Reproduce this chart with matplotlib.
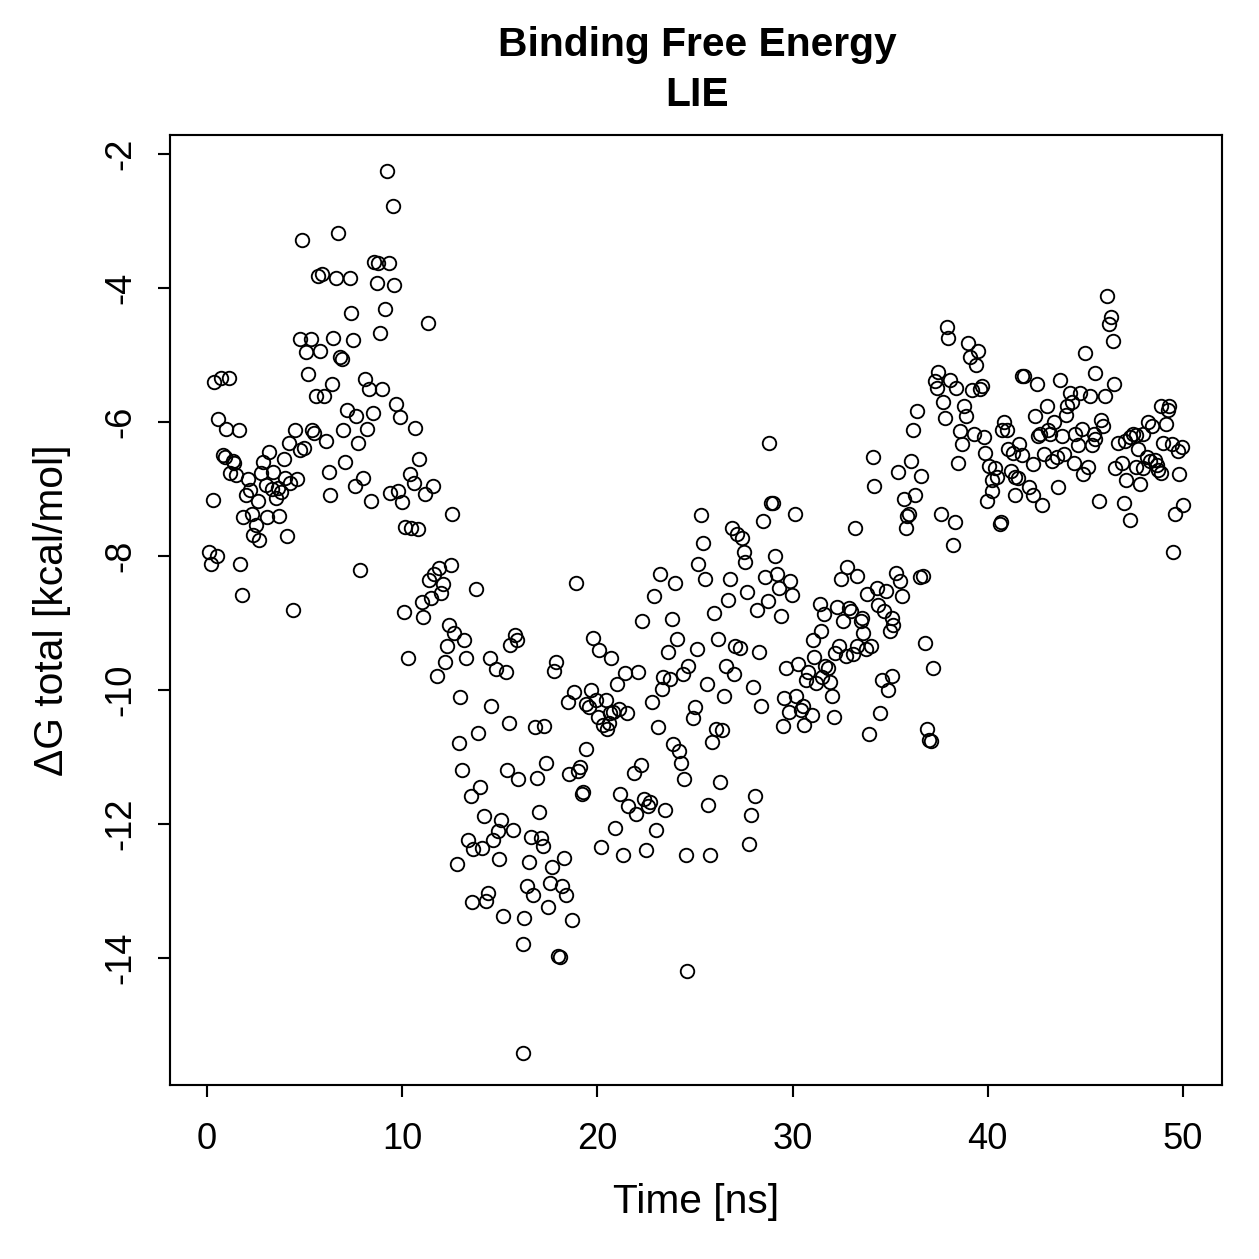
import numpy as np
import matplotlib
matplotlib.use("Agg")
import matplotlib.pyplot as plt

plt.rcParams['font.family'] = ['Liberation Sans', 'DejaVu Sans']

# simulation time [ns] and LIE binding free energy [kcal/mol]
time_ns = [
    4.88, 6.69, 5.67, 5.89, 6.59, 7.31, 7.39, 4.76, 5.31, 6.47, 7.48, 5.07, 5.79, 6.81, 6.90, 5.19,
    8.09, 0.37, 0.70, 1.11, 6.40, 5.57, 5.98, 7.17, 7.63, 0.58, 0.97, 1.61, 4.49, 5.38, 5.50, 6.98,
    6.11, 4.18, 7.75, 4.76, 4.99, 3.18, 0.84, 0.91, 3.93, 1.35, 1.40, 2.89, 7.07, 6.23, 2.77, 3.38,
    1.16, 1.47, 2.10, 3.99, 4.59, 4.25, 7.58, 3.00, 3.64, 3.33, 3.79, 3.55, 2.20, 2.00, 2.60, 0.29,
    6.30, 1.82, 2.31, 3.08, 3.69, 2.49, 2.37, 2.68, 4.08, 0.09, 0.50, 0.19, 1.69, 7.85, 1.78, 4.39,
    # 8 - 16 ns
    9.20, 9.51, 8.57, 8.78, 9.31, 8.69, 9.60, 9.11, 11.30, 8.88, 8.28, 8.98, 8.48, 9.70, 9.90, 10.67,
    8.20, 10.88, 10.40, 10.60, 11.58, 11.18, 7.99, 9.38, 9.80, 10.00, 8.39, 12.56, 10.14, 10.45, 10.81,
    12.50, 11.90, 11.65, 11.37, 12.09, 11.99, 11.49, 10.99, 10.09, 11.08, 13.78,
    12.38, 12.67, 13.17, 12.30, 13.27, 10.28, 12.17, 11.80, 14.47, 14.78, 15.30, 15.78, 15.90, 15.54,
    12.98, 14.57, 15.47, 13.88, 12.89, 13.06, 15.38, 15.95, 13.99, 13.51, 14.19, 15.08, 15.68, 14.89,
    14.67, 13.38, 13.65, 14.06, 14.98, 12.79, 14.40, 14.29, 13.58, 15.18, 16.20,
    # 16 - 25 ns
    22.30, 23.80, 19.79, 20.10, 20.70, 24.08, 23.60, 17.88, 17.79, 21.40, 22.10, 21.00, 23.38, 23.73,
    23.29, 24.39, 24.66, 18.80, 18.48, 19.66, 19.93, 20.43, 19.43, 19.55, 20.01, 20.65, 21.11, 20.80,
    21.50, 20.30, 20.50, 20.61, 22.80, 23.09, 16.79, 17.28, 19.39, 23.89, 24.20, 24.30, 24.46, 17.38,
    16.89, 19.09, 19.00, 18.56, 19.28, 19.20, 22.21, 21.87, 21.16, 21.58, 21.98, 22.37, 22.69, 22.59,
    23.48, 17.01, 20.90, 20.20, 21.31, 22.49, 22.99, 24.54, 16.58, 17.10, 17.20, 16.50, 17.69, 18.29,
    17.59, 18.19, 18.39, 16.38, 16.69, 17.49, 18.69, 16.24, 16.17, 18.00, 18.07, 24.58, 18.90, 23.20,
    23.99, 22.88,
    # 25 - 33 ns
    28.79, 28.89, 28.98, 25.29, 28.50, 30.10, 26.88, 27.17, 27.42, 25.39, 27.49, 27.58, 29.08, 25.17,
    25.50, 26.77, 28.59, 29.22, 29.88, 29.97, 29.32, 28.72, 27.68, 26.69, 25.99, 28.19, 29.39, 32.80,
    32.49, 31.40, 31.62, 32.29, 32.90, 32.99, 33.30,
    32.60, 31.48, 31.07, 32.39, 32.17, 32.72, 26.20, 25.09, 27.07, 27.28, 28.28, 31.09, 30.30, 29.68,
    31.68, 31.80, 30.79, 31.49, 30.69, 31.18, 31.90, 26.59, 26.99, 25.59, 27.98, 26.49, 32.00, 30.18,
    29.58, 30.51, 29.80, 30.41, 31.01, 29.49, 30.60, 28.39, 32.10, 25.00, 24.88, 26.09, 26.37, 25.89,
    26.29, 28.09, 25.68, 27.87, 27.77, 25.78,
    # 33 - 41.6 ns
    37.89, 37.98, 38.99, 39.48, 39.09, 39.38, 37.47, 37.30, 37.40, 38.06, 38.37, 39.20, 39.60, 39.72,
    37.70, 37.79, 38.80, 38.90, 36.39, 36.18, 38.58, 38.70, 39.28, 39.79, 40.85, 40.75, 40.98, 39.88,
    38.49, 41.05, 41.28, 41.60, 40.06, 40.37, 40.49, 40.21, 40.22, 39.98, 41.21, 41.41, 41.38, 34.10,
    34.17, 36.09, 36.58, 35.40, 36.28, 35.70, 35.95, 35.87, 35.79, 37.60, 38.30, 40.68, 40.61, 33.20,
    38.20, 35.30, 35.50, 36.53, 36.70, 34.31, 34.78, 33.80, 35.59, 34.39, 34.68, 33.54, 35.08,
    33.52, 33.61, 35.16, 34.99, 33.28, 33.74, 34.00, 33.08, 36.80, 37.19, 34.59, 35.10, 34.90, 34.49,
    33.90, 36.89, 37.00, 37.07,
    # 41.6 - 50 ns
    46.11, 46.30, 46.21, 46.39, 44.98, 45.51, 41.77, 41.88, 42.51, 43.70, 46.49, 44.21, 44.72, 45.24,
    46.00, 44.33, 44.04, 43.99, 43.02, 42.42, 43.41, 43.10, 42.67, 42.56, 43.19, 43.82, 44.47, 44.81,
    44.61, 45.33, 45.49, 45.46, 45.80, 45.90, 41.73, 42.88, 43.27, 43.53, 43.92, 44.42, 45.12, 44.89,
    42.30, 41.53, 42.12, 42.30, 43.58, 42.79, 45.70, 46.68, 47.02, 47.28, 47.45, 47.57, 47.93, 48.19,
    48.39, 48.86, 49.28, 49.21, 49.11, 48.98, 49.42, 49.73, 49.94, 47.71, 48.14, 48.31, 48.57, 48.65,
    48.74, 48.86, 46.52, 46.89, 47.57, 47.97, 47.08, 47.80, 49.80, 46.99, 47.28, 50.02, 49.59, 49.49,
]

dg_total = [
    -3.28, -3.19, -3.82, -3.80, -3.85, -3.86, -4.38, -4.77, -4.76, -4.75, -4.78, -4.96, -4.94, -5.03, -5.06, -5.29,
    -5.36, -5.41, -5.35, -5.34, -5.44, -5.61, -5.62, -5.83, -5.91, -5.96, -6.11, -6.13, -6.13, -6.12, -6.17, -6.12,
    -6.28, -6.31, -6.32, -6.42, -6.39, -6.45, -6.49, -6.52, -6.55, -6.59, -6.62, -6.60, -6.60, -6.75, -6.77, -6.75,
    -6.77, -6.79, -6.85, -6.84, -6.85, -6.91, -6.96, -6.95, -6.99, -7.01, -7.05, -7.14, -7.02, -7.10, -7.19, -7.17,
    -7.10, -7.42, -7.37, -7.42, -7.41, -7.54, -7.69, -7.76, -7.70, -7.95, -8.01, -8.13, -8.13, -8.22, -8.58, -8.81,
    # 8 - 16 ns
    -2.26, -2.78, -3.61, -3.63, -3.63, -3.93, -3.96, -4.32, -4.52, -4.67, -5.51, -5.51, -5.87, -5.73, -5.93, -6.09,
    -6.11, -6.56, -6.78, -6.91, -6.96, -7.08, -6.84, -7.07, -7.04, -7.20, -7.18, -7.37, -7.57, -7.59, -7.60,
    -8.14, -8.18, -8.27, -8.36, -8.42, -8.55, -8.63, -8.69, -8.84, -8.92, -8.49,
    -9.04, -9.16, -9.26, -9.35, -9.52, -9.53, -9.59, -9.79, -9.53, -9.69, -9.74, -9.19, -9.26, -9.33,
    -10.11, -10.24, -10.49, -10.64, -10.80, -11.20, -11.20, -11.34, -11.45, -11.58, -11.88, -11.94, -12.09, -12.11,
    -12.24, -12.24, -12.38, -12.36, -12.52, -12.60, -13.04, -13.15, -13.17, -13.38, -15.42,
    # 16 - 25 ns
    -8.97, -8.94, -9.23, -9.41, -9.52, -9.25, -9.43, -9.59, -9.72, -9.75, -9.73, -9.92, -9.81, -9.84,
    -9.99, -9.76, -9.64, -10.03, -10.19, -10.01, -10.16, -10.16, -10.21, -10.26, -10.41, -10.35, -10.29, -10.33,
    -10.34, -10.52, -10.58, -10.49, -10.19, -10.56, -10.55, -10.54, -10.88, -10.81, -10.91, -11.09, -11.34, -11.10,
    -11.32, -11.15, -11.21, -11.26, -11.52, -11.56, -11.13, -11.24, -11.55, -11.73, -11.86, -11.63, -11.67, -11.73,
    -11.80, -11.82, -12.06, -12.35, -12.46, -12.39, -12.09, -12.46, -12.20, -12.22, -12.33, -12.57, -12.65, -12.51,
    -12.88, -12.93, -13.06, -12.93, -13.06, -13.24, -13.44, -13.41, -13.79, -13.98, -13.99, -14.20, -8.40, -8.28,
    -8.40, -8.60,
    # 25 - 33 ns
    -6.32, -7.22, -7.22, -7.39, -7.48, -7.38, -7.59, -7.68, -7.73, -7.81, -7.95, -8.09, -8.00, -8.12,
    -8.35, -8.34, -8.31, -8.27, -8.37, -8.59, -8.48, -8.67, -8.54, -8.66, -8.86, -8.81, -8.90, -8.17,
    -8.34, -8.72, -8.87, -8.77, -8.78, -8.83, -8.30,
    -8.98, -9.13, -9.26, -9.34, -9.45, -9.49, -9.25, -9.39, -9.34, -9.37, -9.43, -9.51, -9.62, -9.68,
    -9.64, -9.68, -9.73, -9.81, -9.85, -9.90, -9.89, -9.65, -9.76, -9.92, -9.96, -10.09, -10.10, -10.09,
    -10.13, -10.24, -10.33, -10.30, -10.37, -10.54, -10.53, -10.24, -10.40, -10.26, -10.42, -10.59, -10.60, -10.78,
    -11.37, -11.58, -11.72, -11.87, -12.31, -12.47,
    # 33 - 41.6 ns
    -4.59, -4.75, -4.83, -4.94, -5.04, -5.16, -5.26, -5.39, -5.50, -5.38, -5.49, -5.52, -5.51, -5.47,
    -5.70, -5.94, -5.76, -5.91, -5.84, -6.12, -6.14, -6.33, -6.19, -6.23, -6.00, -6.13, -6.13, -6.46,
    -6.61, -6.40, -6.47, -6.33, -6.66, -6.69, -6.83, -6.87, -7.04, -7.19, -6.74, -6.83, -7.10, -6.52,
    -6.96, -6.58, -6.81, -6.75, -7.10, -7.16, -7.38, -7.41, -7.58, -7.37, -7.50, -7.49, -7.53, -7.59,
    -7.84, -8.26, -8.37, -8.31, -8.30, -8.48, -8.52, -8.57, -8.60, -8.73, -8.83, -8.93, -8.93,
    -8.97, -9.15, -9.03, -9.12, -9.35, -9.39, -9.34, -9.46, -9.31, -9.68, -9.85, -9.79, -10.00, -10.34,
    -10.66, -10.58, -10.75, -10.76,
    # 41.6 - 50 ns
    -4.12, -4.44, -4.54, -4.79, -4.97, -5.27, -5.31, -5.32, -5.43, -5.37, -5.44, -5.57, -5.57, -5.62,
    -5.61, -5.71, -5.77, -5.90, -5.76, -5.91, -6.01, -6.12, -6.18, -6.22, -6.19, -6.21, -6.18, -6.11,
    -6.34, -6.34, -6.26, -6.19, -5.97, -6.07, -6.49, -6.48, -6.58, -6.52, -6.48, -6.62, -6.67, -6.78,
    -6.63, -6.84, -6.97, -7.09, -6.98, -7.25, -7.18, -6.32, -6.29, -6.23, -6.18, -6.20, -6.19, -6.00,
    -6.06, -5.77, -5.77, -5.83, -6.04, -6.31, -6.33, -6.43, -6.38, -6.41, -6.53, -6.58, -6.57, -6.64,
    -6.72, -6.76, -6.69, -6.62, -6.68, -6.69, -6.87, -6.93, -6.78, -7.21, -7.46, -7.24, -7.37, -7.94,
]

x_ticks = [0, 10, 20, 30, 40, 50]
y_ticks = [-14, -12, -10, -8, -6, -4, -2]

t = np.array(time_ns)
g = np.array(dg_total)
order = np.argsort(t)

fig = plt.figure(figsize=(1259 / 180, 1259 / 180), dpi=180)
ax = fig.add_axes([170 / 1259, 1 - 1085 / 1259, 1052 / 1259, 950 / 1259])

ax.plot(t[order], g[order], linestyle='none', marker='o', markersize=5.4,
        markerfacecolor='none', markeredgecolor='black', markeredgewidth=0.75)

ax.set_xlim(-1.9, 52.0)
ax.set_ylim(-15.9, -1.72)
ax.set_xticks(x_ticks)
ax.set_yticks(y_ticks)
ax.set_xticklabels([str(v) for v in x_ticks])
ax.set_yticklabels([str(v) for v in y_ticks], rotation=90, va='center')

for sp in ax.spines.values():
    sp.set_linewidth(0.85)
ax.tick_params(direction='out', length=4.8, width=0.85, labelsize=14.5, pad=10)
ax.tick_params(axis='y', pad=8)

fig.text(0.5536, 1 - 45 / 1259, 'Binding Free Energy', ha='center', va='center',
         fontsize=16.3, fontweight='bold')
fig.text(0.5536, 1 - 95 / 1259, 'LIE', ha='center', va='center',
         fontsize=16.3, fontweight='bold')
fig.text(696 / 1259, 1 - 1202 / 1259, 'Time [ns]', ha='center', va='center', fontsize=16.3)
fig.text(52 / 1259, 1 - 610 / 1259, 'ΔG total [kcal/mol]', ha='center', va='center',
         rotation=90, fontsize=16.3)

fig.savefig('out.png', dpi=180)
